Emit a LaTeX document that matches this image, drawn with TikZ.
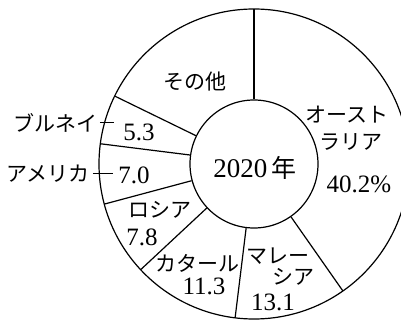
\documentclass[tikz,border=0pt]{standalone}
\usepackage{fontspec}
\setmainfont{Liberation Serif}
\newfontfamily\jp{Noto Sans CJK JP}

\tikzset{
    country/.style={font=\jp\fontsize{21}{23}\selectfont, inner sep=0pt},
    share/.style={font=\fontsize{25}{27}\selectfont, inner sep=0pt},
    border/.style={line width=1.2pt},
    leader/.style={line width=1pt}
}

\begin{document}
\begin{tikzpicture}[x=1pt,y=1pt]
    % Parameters
    \def\rin{64}
    \def\rout{155}

    \useasboundingbox (-254,-156) rectangle (147,164);
    \clip (-254,-156) rectangle (147,164);

    % Rings
    \draw[border] (0,0) circle (\rout);
    \node[circle, draw, border, minimum size=2*\rin pt, inner sep=0pt, share] (year) at (0,0) {};
    \node[share, font=\fontsize{27}{29}\selectfont] (yr) at (1,-4) {2020\,{\jp\fontsize{25}{27}\selectfont 年}};

    % Sector borders
    \foreach \a in {90,-55,-97,-137,-165,172.5,154} {
        \draw[border] (year.\a) -- (\a:\rout);
    }

    % Labels
    \node[country] (other) at (-59,82) {その他};
    \node[country] (aus) at (93,49) {オースト};
    \node[country] (aus2) at (97,22) {ラリア};
    \node[share] (v402) at (105,-20) {40.2\%};
    \node[country, anchor=east] (brunei) at (-156,41) {ブルネイ};
    \node[share] (v53) at (-115,32) {5.3};
    \node[country, anchor=east] (usa) at (-164,-10) {アメリカ};
    \node[share] (v70) at (-120,-11) {7.0};
    \node[country] (russia) at (-94,-46) {ロシア};
    \node[share] (v78) at (-112,-73) {7.8};
    \node[country] (qatar) at (-56,-99) {カタール};
    \node[share] (v113) at (-50,-122) {11.3};
    \node[country] (malay) at (24,-92) {マレー};
    \node[country] (malay2) at (39,-113) {シア};
    \node[share] (v131) at (19,-138) {13.1};

    % Leader ticks
    \draw[leader] ([xshift=2pt]brunei.east) -- ([xshift=-9pt]v53.west |- brunei.east);
    \draw[leader] ([xshift=3pt]usa.east) -- ([xshift=-5pt]v70.west |- usa.east);
\end{tikzpicture}
\end{document}
